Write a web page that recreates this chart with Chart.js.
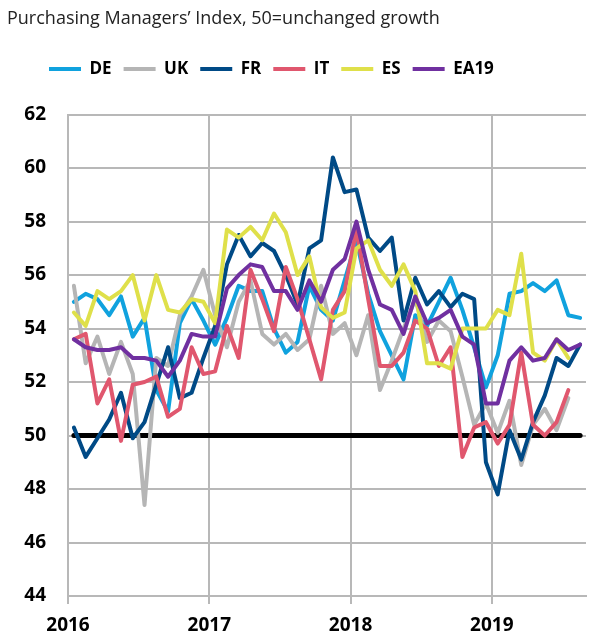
<!DOCTYPE html>
<html>
<head>
<meta charset="utf-8">
<script src="https://cdn.jsdelivr.net/npm/chart.js@4.4.0/dist/chart.umd.min.js"></script>
<style>
    html, body { margin: 0; padding: 0; background: #fff; }
    #wrap { width: 613px; height: 641px; position: relative; }
</style>
</head>
<body>
<div id="wrap"><canvas id="graphic"></canvas></div>
<script>
// monthly services PMI, Jan 2016 .. Aug 2019
const years = ['2016', '2017', '2018', '2019'];
const nbMonths = 44;

const de = [55.0, 55.3, 55.1, 54.5, 55.2, 53.7, 54.4, 51.7, 50.9, 54.2, 55.1, 54.3,
    53.4, 54.4, 55.6, 55.4, 55.4, 54.0, 53.1, 53.5, 55.6, 54.7, 54.3, 55.8,
    57.3, 55.3, 53.9, 53.0, 52.1, 54.5, 54.1, 55.0, 55.9, 54.7, 53.3, 51.8,
    53.0, 55.3, 55.4, 55.7, 55.4, 55.8, 54.5, 54.4];
const uk = [55.6, 52.7, 53.7, 52.3, 53.5, 52.3, 47.4, 52.9, 52.6, 54.5, 55.2, 56.2,
    54.5, 53.3, 55.0, 55.8, 53.8, 53.4, 53.8, 53.2, 53.6, 55.6, 53.8, 54.2,
    53.0, 54.5, 51.7, 52.8, 54.0, 55.1, 53.5, 54.3, 53.9, 52.2, 50.4, 51.2,
    50.1, 51.3, 48.9, 50.4, 51.0, 50.2, 51.4, null];
const fr = [50.3, 49.2, 49.9, 50.6, 51.6, 49.9, 50.5, 51.9, 53.3, 51.4, 51.6, 52.9,
    54.1, 56.4, 57.5, 56.7, 57.2, 56.9, 56.0, 54.9, 57.0, 57.3, 60.4, 59.1,
    59.2, 57.4, 56.9, 57.4, 54.3, 55.9, 54.9, 55.4, 54.8, 55.3, 55.1, 49.0,
    47.8, 50.2, 49.1, 50.5, 51.5, 52.9, 52.6, 53.4];
const it = [53.6, 53.8, 51.2, 52.1, 49.8, 51.9, 52.0, 52.2, 50.7, 51.0, 53.3, 52.3,
    52.4, 54.1, 52.9, 56.2, 55.1, 53.9, 56.3, 55.1, 53.6, 52.1, 54.7, 55.4,
    57.7, 55.1, 52.6, 52.6, 53.1, 54.3, 54.0, 52.6, 53.3, 49.2, 50.3, 50.5,
    49.7, 50.4, 53.1, 50.4, 50.0, 50.5, 51.7, null];
const es = [54.6, 54.1, 55.4, 55.1, 55.4, 56.0, 54.3, 56.0, 54.7, 54.6, 55.1, 55.0,
    54.2, 57.7, 57.4, 57.8, 57.3, 58.3, 57.6, 56.0, 56.7, 54.8, 54.4, 54.6,
    57.0, 57.3, 56.2, 55.6, 56.4, 55.4, 52.7, 52.7, 52.5, 54.0, 54.0, 54.0,
    54.7, 54.5, 56.8, 53.1, 52.8, 53.6, 52.9, null];
const ea19 = [53.6, 53.3, 53.2, 53.2, 53.3, 52.9, 52.9, 52.8, 52.2, 52.8, 53.8, 53.7,
    53.7, 55.5, 56.0, 56.4, 56.3, 55.4, 55.4, 54.7, 55.8, 55.0, 56.2, 56.6,
    58.0, 56.2, 54.9, 54.7, 53.8, 55.2, 54.2, 54.4, 54.7, 53.7, 53.4, 51.2,
    51.2, 52.8, 53.3, 52.8, 52.9, 53.6, 53.2, 53.4];
const seuil = 50;

// each month sits in the middle of its slot
function toPoints(values) {
    return values.map((v, i) => ({ x: i + 0.5, y: v }));
}

function serie(label, values, color, order) {
    return {
        label: label,
        data: toPoints(values),
        borderColor: color,
        backgroundColor: color,
        borderWidth: 4,
        borderCapStyle: 'round',
        borderJoinStyle: 'round',
        pointRadius: 0,
        tension: 0,
        order: order
    };
}

const ajusteLegende = {
    id: 'ajusteLegende',
    beforeInit(chart) {
        const fit = chart.legend.fit;
        chart.legend.fit = function () {
            fit.call(this);
            this.height += 27;
        };
    },
    afterLayout(chart) {
        chart.legend.left = 37;
    }
};

Chart.defaults.font.family = "'Open Sans', sans-serif";
Chart.defaults.color = '#000';

const graphic = document.getElementById('graphic');
new Chart(graphic, {
    type: 'line',
    data: {
        datasets: [
            serie('DE', de, '#10a2de', 6),
            serie('UK', uk, '#b5b5b5', 5),
            serie('FR', fr, '#004a86', 4),
            serie('IT', it, '#e0576e', 3),
            serie('ES', es, '#dfe04a', 2),
            serie('EA19', ea19, '#7030a0', 1),
            {
                label: 'seuil',
                data: [{ x: 0.5, y: seuil }, { x: nbMonths - 0.5, y: seuil }],
                borderColor: '#000',
                borderWidth: 5,
                borderCapStyle: 'round',
                pointRadius: 0,
                order: 7
            }
        ]
    },
    options: {
        responsive: true,
        maintainAspectRatio: false,
        animation: false,
        layout: { padding: { left: 7, right: 27, top: 0, bottom: 0 } },
        plugins: {
            title: {
                display: true,
                text: 'Purchasing Managers’ Index, 50=unchanged growth',
                align: 'start',
                color: '#222',
                font: { size: 18, weight: 'normal' },
                padding: { top: 8, bottom: 19 }
            },
            legend: {
                display: true,
                align: 'start',
                reverse: true,
                labels: {
                    usePointStyle: true,
                    pointStyle: 'line',
                    pointStyleWidth: 32,
                    padding: 12,
                    color: '#000',
                    font: { size: 17, weight: 'bold' },
                    filter: (item) => item.text !== 'seuil'
                }
            },
            tooltip: { enabled: false }
        },
        scales: {
            x: {
                type: 'linear',
                min: 0,
                max: nbMonths,
                afterFit: (scale) => { scale.height = 45; },
                grid: { color: '#b8b8b8', lineWidth: 2, tickLength: 8 },
                border: { color: '#b8b8b8', width: 2 },
                ticks: {
                    stepSize: 12,
                    includeBounds: false,
                    maxRotation: 0,
                    padding: 10,
                    font: { size: 19, weight: 'bold' },
                    callback: (v) => years[v / 12]
                }
            },
            y: {
                min: 44,
                max: 62,
                afterFit: (scale) => { scale.width = 61; },
                grid: { color: '#b8b8b8', lineWidth: 2, drawTicks: false },
                border: { color: '#b8b8b8', width: 2 },
                ticks: {
                    stepSize: 2,
                    padding: 22,
                    font: { size: 19, weight: 'bold' }
                }
            }
        }
    },
    plugins: [ajusteLegende]
});
</script>
</body>
</html>
